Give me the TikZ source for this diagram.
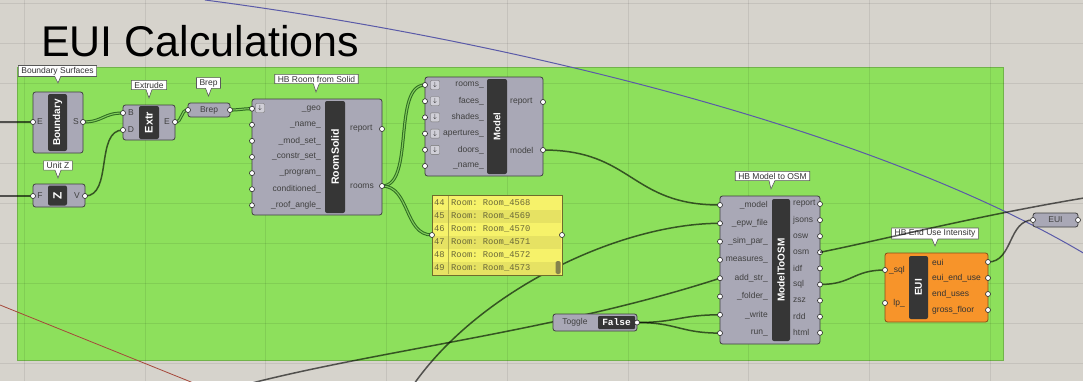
\documentclass[tikz,border=0pt]{standalone}
\usepackage{fontspec}
\setmainfont{Liberation Sans}
\setmonofont{Liberation Mono}
\usetikzlibrary{positioning,calc,shapes.callouts}
\definecolor{ghbg}{HTML}{D6D3CC}
\definecolor{ghgreen}{HTML}{8DE05C}
\definecolor{ghcomp}{HTML}{A9A8B6}
\definecolor{ghbar}{HTML}{363636}
\definecolor{ghorange}{HTML}{F7942A}
\definecolor{ghyellow}{HTML}{F6F26A}
\definecolor{ghpanel}{HTML}{6E6C2C}
\definecolor{ghptext}{HTML}{6A6838}
\definecolor{ghblue}{HTML}{5A5AA8}
\definecolor{ghred}{HTML}{A5473A}
\definecolor{ghwire}{HTML}{2F6B22}
\definecolor{ghdouble}{HTML}{7FCB5A}
\pgfdeclarelayer{background}
\pgfdeclarelayer{wires}
\pgfsetlayers{background,wires,main}
\tikzset{
  comp/.style={draw=black!75, fill=ghcomp, rounded corners=2.5pt, line width=0.8pt,
               inner sep=0pt, text=black!75, font=\fontsize{8.5}{9}\selectfont},
  eucomp/.style={comp, draw=ghorange!55!black, fill=ghorange},
  bar/.style={fill=ghbar, rounded corners=2pt, inner sep=0pt, rotate=90, text=white,
              font=\bfseries\fontsize{10}{10}\selectfont},
  plab/.style={inner sep=0pt, text=black!75, font=\fontsize{8.5}{9}\selectfont},
  tip/.style={rectangle callout, draw=black!65, fill=white, line width=0.6pt,
              inner xsep=3pt, inner ysep=1.5pt, callout pointer width=6pt,
              text=black!80, font=\fontsize{8.5}{9}\selectfont},
  flat/.style={draw=black!55, fill=ghcomp!55!white, rounded corners=1pt, minimum size=9pt,
               inner sep=0pt, font=\fontsize{6}{6}\selectfont},
  port/.style={draw=black!85, fill=white, line width=0.6pt},
  wire/.style={draw=black, draw opacity=0.62, line width=1.5pt},
  dwire/.style={draw=ghwire, line width=1pt, double=ghdouble, double distance=1.1pt},
  gridline/.style={draw=black, draw opacity=0.08, line width=0.6pt},
  panelbox/.style={draw=ghpanel, fill=ghyellow, line width=0.8pt, inner sep=0pt},
  ptxt/.style={inner sep=0pt, text=ghptext, font=\ttfamily\fontsize{8.8}{9}\selectfont}
}

\begin{document}
\begin{tikzpicture}[x=1pt, y=-1pt]
  \useasboundingbox (0,0) rectangle (1083,381);
  \begin{pgfonlayer}{background}
    \fill[ghbg] (0,0) rectangle (1083,381);
    \filldraw[fill=ghgreen, draw=ghgreen!80!black, line width=0.8pt] (17,67) rectangle (1003,360);
    \foreach \x in {24,145,265,386,507,628,748,869,990}
      \draw[gridline] (\x,0) -- (\x,381);
    \foreach \y in {3,43,...,363}
      \draw[gridline] (0,\y) -- (1083,\y);
  \end{pgfonlayer}

  \node[anchor=base west, inner sep=0pt, font=\fontsize{43}{43}\selectfont] (title) at (41,56) {EUI Calculations};

  % --- Boundary / Unit Z / Extrude / Brep
  \node[comp, minimum width=50pt, minimum height=61pt] (bnd) at (58,122.5) {};
  \node[bar, minimum width=57pt, minimum height=19pt] (bnd-bar) at (57.5,122.5) {Boundary};
  \node[plab] (bnd-E) at (40,122) {E};
  \node[plab] (bnd-S) at (76,122) {S};
  \coordinate (bnd-in) at (33,122);
  \coordinate (bnd-out) at (83,122);
  \node[tip, callout absolute pointer={(58,83)}] (bnd-tip) at (57.5,71) {Boundary Surfaces};

  \node[comp, minimum width=52pt, minimum height=23pt] (uz) at (59,195.5) {};
  \node[bar, minimum width=20pt, minimum height=19pt, font=\bfseries\fontsize{12}{12}\selectfont] (uz-bar) at (57.5,195.5) {Z};
  \node[plab] (uz-F) at (40,196) {F};
  \node[plab] (uz-V) at (77,196) {V};
  \coordinate (uz-in) at (33,196);
  \coordinate (uz-out) at (85,196);
  \node[tip, callout absolute pointer={(58,178)}] (uz-tip) at (58,165.5) {Unit Z};

  \node[comp, minimum width=52pt, minimum height=35pt] (ex) at (149,122.5) {};
  \node[bar, minimum width=33pt, minimum height=20pt, font=\bfseries\fontsize{11}{11}\selectfont] (ex-bar) at (149,122.5) {Extr};
  \node[plab] (ex-B) at (131,113) {B};
  \node[plab] (ex-D) at (131,130) {D};
  \node[plab] (ex-E) at (167,122) {E};
  \coordinate (ex-inB) at (123,113);
  \coordinate (ex-inD) at (123,130);
  \coordinate (ex-out) at (175,122);
  \node[tip, callout absolute pointer={(149,98)}] (ex-tip) at (149,85) {Extrude};

  \node[comp, minimum width=42pt, minimum height=14pt] (brep) at (209,110) {Brep};
  \coordinate (brep-in) at (188,110);
  \coordinate (brep-out) at (230,110);
  \node[tip, callout absolute pointer={(208.5,96)}] (brep-tip) at (208.5,83) {Brep};

  % --- HB Room from Solid
  \node[comp, minimum width=130pt, minimum height=116pt] (rs) at (317,157) {};
  \node[bar, minimum width=112pt, minimum height=20pt, font=\bfseries\fontsize{10.5}{10.5}\selectfont] (rs-bar) at (335,157) {RoomSolid};
  \node[flat] (rs-icon) at (260,108) {$\downarrow$};
  \foreach \lbl [count=\i] in {\_geo,\_name\_,\_mod\_set\_,\_constr\_set\_,\_program\_,conditioned\_,\_roof\_angle\_}{
    \coordinate (rs-in\i) at (252,{92.6+16.1*\i});
    \node[plab, anchor=east] (rs-l\i) at (321,{92.6+16.1*\i}) {\lbl};
  }
  \node[plab, anchor=west] (rs-report) at (350,129) {report};
  \node[plab, anchor=west] (rs-rooms) at (350,186) {rooms};
  \coordinate (rs-out1) at (382,129);
  \coordinate (rs-out2) at (382,186);
  \node[tip, callout absolute pointer={(316,92)}] (rs-tip) at (316.5,79) {HB Room from Solid};

  % --- Model
  \node[comp, minimum width=118pt, minimum height=99pt] (md) at (484,126.5) {};
  \node[bar, minimum width=95pt, minimum height=20pt, font=\bfseries\fontsize{9.5}{9.5}\selectfont] (md-bar) at (497,126.5) {Model};
  \foreach \lbl [count=\i] in {rooms\_,faces\_,shades\_,apertures\_,doors\_,\_name\_}{
    \coordinate (md-in\i) at (425,{68.8+16.2*\i});
    \node[plab, anchor=east] (md-l\i) at (484,{68.8+16.2*\i}) {\lbl};
  }
  \foreach \i in {1,...,5}
    \node[flat] (md-icon\i) at (435,{68.8+16.2*\i}) {$\downarrow$};
  \node[plab, anchor=west] (md-report) at (510,102) {report};
  \node[plab, anchor=west] (md-model) at (510,150) {model};
  \coordinate (md-out1) at (543,102);
  \coordinate (md-out2) at (543,150);

  % --- Panel
  \node[panelbox, minimum width=130pt, minimum height=80pt] (pnl) at (497,235) {};
  \foreach \i in {2,4,6}
    \fill[ghyellow!88!ghpanel] ({432.6},{190+13*\i-6.5}) rectangle ({561.4},{190+13*\i+6.5});
  \draw[ghpanel!50!ghyellow, line width=0.5pt] (448,195.6) -- (448,274.4);
  \foreach \n [count=\i] in {4568,4569,4570,4571,4572,4573}{
    \pgfmathtruncatemacro\idx{43+\i}
    \node[ptxt, anchor=west] (pnl-n\i) at (434,{190+13*\i}) {\idx};
    \node[ptxt, anchor=west] (pnl-t\i) at (451,{190+13*\i}) {Room: Room\_\n};
  }
  \fill[ghpanel!85, rounded corners=1.5pt] (555.5,261) rectangle (560.5,274);
  \coordinate (pnl-in) at (432,235);
  \coordinate (pnl-out) at (562,235);

  % --- Toggle
  \node[comp, minimum width=84pt, minimum height=17pt] (tg) at (595,322.5) {};
  \node[plab] (tg-l) at (575,322.5) {Toggle};
  \node[fill=ghbar, rounded corners=1pt, minimum width=37pt, minimum height=13pt, inner sep=0pt,
        text=white, font=\ttfamily\bfseries\fontsize{9.5}{10}\selectfont] (tg-val) at (616.5,322.5) {False};
  \coordinate (tg-out) at (637,322.5);

  % --- HB Model to OSM
  \node[comp, minimum width=100pt, minimum height=148pt] (os) at (770,270) {};
  \node[bar, minimum width=142pt, minimum height=18pt] (os-bar) at (781,270) {ModelToOSM};
  \foreach \lbl [count=\i] in {\_model,\_epw\_file,\_sim\_par\_,measures\_,add\_str\_,\_folder\_,\_write,run\_}{
    \coordinate (os-in\i) at (720,{186.7+18.3*\i});
    \node[plab, anchor=east] (os-l\i) at (768,{186.7+18.3*\i}) {\lbl};
  }
  \foreach \lbl [count=\i] in {report,jsons,osw,osm,idf,sql,zsz,rdd,html}{
    \coordinate (os-out\i) at (820,{187.9+16.1*\i});
    \node[plab, anchor=west] (os-r\i) at (793,{187.9+16.1*\i}) {\lbl};
  }
  \node[tip, callout absolute pointer={(771,189)}] (os-tip) at (772.5,176) {HB Model to OSM};

  % --- HB End Use Intensity
  \node[eucomp, minimum width=103pt, minimum height=69pt] (eu) at (936.5,287.5) {};
  \node[bar, minimum width=63pt, minimum height=19pt] (eu-bar) at (918.5,287.5) {EUI};
  \node[plab, anchor=east, text=black!80] (eu-l1) at (905,270) {\_sql};
  \node[plab, anchor=east, text=black!80] (eu-l2) at (905,303) {lp\_};
  \coordinate (eu-in1) at (885,270);
  \coordinate (eu-in2) at (885,303);
  \foreach \lbl [count=\i] in {eui,eui\_end\_use,end\_uses,gross\_floor}{
    \coordinate (eu-out\i) at (988,{246+16*\i});
    \node[plab, anchor=west, text=black!80] (eu-r\i) at (932,{246+16*\i}) {\lbl};
  }
  \node[tip, callout absolute pointer={(935,246)}] (eu-tip) at (935,233.5) {HB End Use Intensity};

  \node[comp, minimum width=45pt, minimum height=14pt] (ep) at (1055.5,220) {EUI};
  \coordinate (ep-in) at (1033,220);
  \coordinate (ep-out) at (1078,220);

  % ports
  \foreach \p in {bnd-in,bnd-out,uz-in,uz-out,ex-inB,ex-inD,ex-out,brep-in,brep-out,
                  rs-in1,rs-in2,rs-in3,rs-in4,rs-in5,rs-in6,rs-in7,rs-out1,rs-out2,
                  md-in1,md-in2,md-in3,md-in4,md-in5,md-in6,md-out1,md-out2,pnl-in,pnl-out,tg-out,
                  os-in1,os-in2,os-in3,os-in4,os-in5,os-in6,os-in7,os-in8,
                  os-out1,os-out2,os-out3,os-out4,os-out5,os-out6,os-out7,os-out8,os-out9,
                  eu-in1,eu-in2,eu-out1,eu-out2,eu-out3,eu-out4,ep-in,ep-out}
    \draw[port] (\p) circle (2.5pt);

  % wires
  \coordinate (offL1) at (0,122);
  \coordinate (offL2) at (0,196);
  \coordinate (offA) at (248,384);
  \coordinate (offB) at (414,384);
  \coordinate (offR) at (1090,197);
  \begin{pgfonlayer}{wires}
    \draw[ghblue, line width=1pt] (205,0) .. controls (510,40) and (880,130) .. (1090,257);
    \draw[ghred, line width=0.8pt] (0,305) -- (196,384);
    \draw[wire] (offL1) -- (bnd-in);
    \draw[wire] (offL2) -- (uz-in);
    \draw[dwire] (bnd-out) .. controls +(20,0) and +(-20,0) .. (ex-inB);
    \draw[wire] (uz-out) .. controls +(28,0) and +(-28,0) .. (ex-inD);
    \draw[dwire] (ex-out) .. controls +(8,0) and +(-8,0) .. (brep-in);
    \draw[dwire] (brep-out) .. controls +(10,0) and +(-10,0) .. (rs-in1);
    \draw[dwire] (rs-out2) .. controls +(33,0) and +(-33,0) .. (md-in1);
    \draw[dwire] (rs-out2) .. controls +(28,0) and +(-28,0) .. (pnl-in);
    \draw[wire] (md-out2) .. controls +(90,0) and +(-90,0) .. (os-in1);
    \draw[wire] (offB) .. controls +(66,-94) and +(-100,0) .. (os-in2);
    \draw[wire] (offA) .. controls +(132,-34) and +(-160,52) .. (os-in5);
    \draw[wire] (tg-out) .. controls +(40,0) and +(-40,0) .. (os-in7);
    \draw[wire] (tg-out) .. controls +(40,0) and +(-40,0) .. (os-in8);
    \draw[wire] (os-out6) .. controls +(32,0) and +(-32,0) .. (eu-in1);
    \draw[wire] (eu-out1) .. controls +(25,0) and +(-25,0) .. (ep-in);
  \end{pgfonlayer}
  \draw[wire] (os-out4) .. controls +(60,-12) and +(-110,18) .. (offR);
\end{tikzpicture}
\end{document}
